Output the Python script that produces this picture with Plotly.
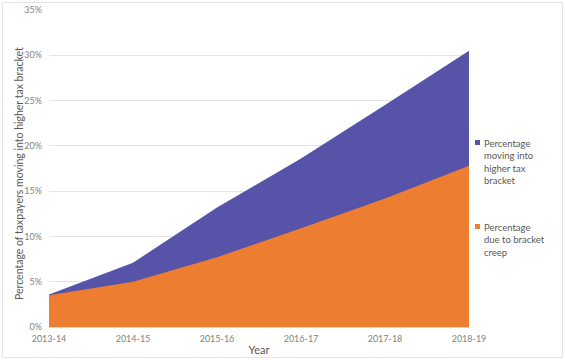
import plotly.graph_objects as go

years = ["2013-14", "2014-15", "2015-16", "2016-17", "2017-18", "2018-19"]
moving_higher = [0.036, 0.071, 0.132, 0.186, 0.245, 0.305]
bracket_creep = [0.035, 0.050, 0.077, 0.109, 0.142, 0.178]
legend_labels = ["Percentage<br>moving into<br>higher tax<br>bracket",
                 "Percentage<br>due to bracket<br>creep"]
colors = ["#5653A8", "#ED7D31"]
y_title = "Percentage of taxpayers moving into higher tax bracket"

font_fam = "Lato, Open Sans, sans-serif"
grey = "#7f7f7f"

L, R, T, B = 49, 96, 10, 33
PW, PH = 565 - L - R, 360 - T - B

def px(x):
    return (x - L) / PW

def py(y):
    return (360 - B - y) / PH

fig = go.Figure()
fig.add_trace(go.Scatter(
    x=years, y=moving_higher, mode="lines", fill="tozeroy",
    line=dict(width=0, color=colors[0]), fillcolor=colors[0],
    name=legend_labels[0], showlegend=False, hoverinfo="skip"))
fig.add_trace(go.Scatter(
    x=years, y=bracket_creep, mode="lines", fill="tozeroy",
    line=dict(width=0, color=colors[1]), fillcolor=colors[1],
    name=legend_labels[1], showlegend=False, hoverinfo="skip"))

annotations = [dict(text=y_title, xref="paper", yref="paper",
                    x=px(19), y=py(174), xanchor="center", yanchor="middle",
                    textangle=-90, showarrow=False,
                    font=dict(size=10.5, color="#595959", family=font_fam))]
shapes = [dict(type="rect", xref="paper", yref="paper",
               x0=px(2.5), x1=px(562.5), y0=py(357.5), y1=py(2.5),
               line=dict(color="#e4e4e4", width=1), fillcolor="rgba(0,0,0,0)", layer="below")]
for lab, col, ytop in zip(legend_labels, colors, [136, 220]):
    shapes.append(dict(type="rect", xref="paper", yref="paper",
                       x0=px(475), x1=px(480), y0=py(ytop + 9), y1=py(ytop + 4),
                       line=dict(width=0), fillcolor=col))
    annotations.append(dict(text=lab, xref="paper", yref="paper",
                            x=px(482), y=py(ytop), xanchor="left", yanchor="top",
                            align="left", showarrow=False,
                            font=dict(size=9.5, color="#595959", family=font_fam)))

fig.update_layout(
    width=565, height=360,
    margin=dict(l=L, r=R, t=T, b=B, autoexpand=False),
    paper_bgcolor="white", plot_bgcolor="white",
    font=dict(family=font_fam, color=grey, size=9),
    showlegend=False,
    hovermode=False,
    xaxis=dict(type="category", range=[0, 5], showgrid=False, automargin=False,
               showline=True, linecolor="#d9d9d9", ticks="",
               ticklabelstandoff=3,
               tickfont=dict(size=9, color=grey),
               title=dict(text="Year", font=dict(size=11, color="#595959"), standoff=3)),
    yaxis=dict(range=[0, 0.35], dtick=0.05, tickformat=".0%", automargin=False,
               showgrid=True, gridcolor="#e3e3e3", gridwidth=1, zeroline=False,
               ticks="", ticklabelstandoff=6,
               tickfont=dict(size=9, color=grey)),
    shapes=shapes,
    annotations=annotations,
)

fig.write_html("out.html", config={"displayModeBar": False},
               post_script="document.body.style.margin='0';document.body.style.padding='0';")
